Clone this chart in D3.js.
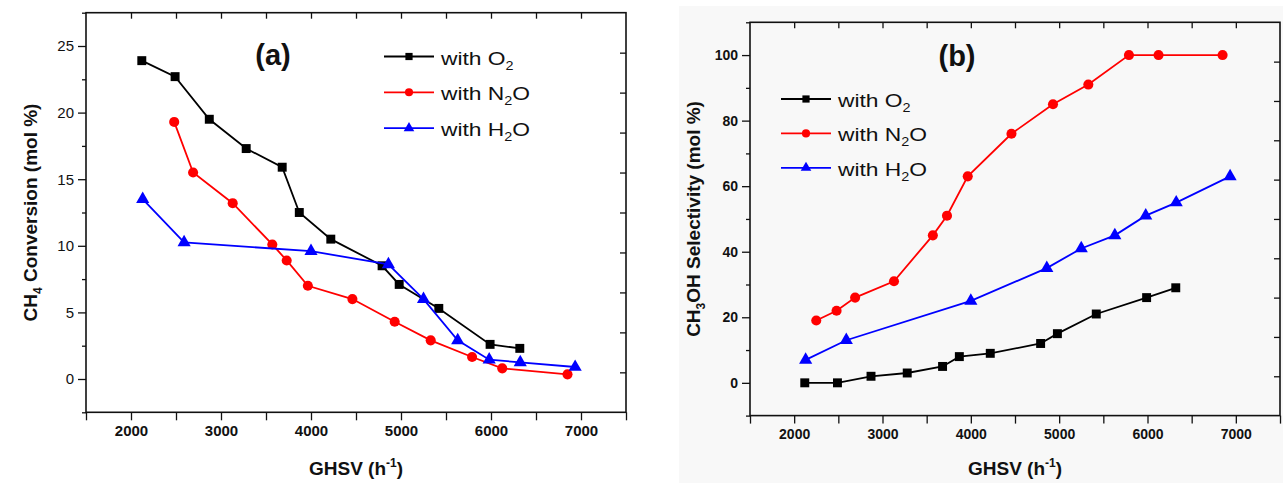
<!DOCTYPE html>
<html lang="en">
<head>
<meta charset="utf-8">
<title>GHSV</title>
<script src="https://cdn.jsdelivr.net/npm/d3@7"></script>
<style>
  body { margin: 0; background: #ffffff; }
  svg text { font-family: "Liberation Sans", Arial, sans-serif; fill: #111; }
</style>
</head>
<body>
<script>
// GHSV (h-1) of each run
var ghsvO2   = [2120, 2490, 2870, 3280, 3680, 3870, 4220, 4790, 4980, 5420, 5990, 6320];
var ghsvN2Oa = [2480, 2690, 3130, 3570, 3730, 3965, 4460, 4930, 5330, 5790, 6125, 6850];
var ghsvN2Ob = [2250, 2480, 2690, 3130, 3570, 3730, 3965, 4460, 4930, 5330, 5790, 6125, 6850];
var ghsvH2O  = [2130, 2590, 4000, 4860, 5250, 5630, 5980, 6325, 6935];

// (a) CH4 conversion, mol %
var convO2  = [23.9, 22.7, 19.5, 17.3, 15.9, 12.5, 10.5, 8.5, 7.1, 5.3, 2.6, 2.3];
var convN2O = [19.3, 15.5, 13.2, 10.1, 8.9, 7.0, 6.0, 4.3, 2.9, 1.65, 0.8, 0.35];
var convH2O = [13.5, 10.25, 9.6, 8.6, 6.0, 2.9, 1.45, 1.25, 0.9];

// (b) CH3OH selectivity, mol %
var selO2  = [0, 0, 2, 3, 5, 8, 9, 12, 15, 21, 26, 29];
var selN2O = [19, 22, 26, 31, 45, 51, 63, 76, 85, 91, 100, 100, 100];
var selH2O = [7, 13, 25, 35, 41, 45, 51, 55, 63];

// ticks
var xTicks      = [2000, 3000, 4000, 5000, 6000, 7000];
var convTicks   = [0, 5, 10, 15, 20, 25];
var selTicks    = [0, 20, 40, 60, 80, 100];
var convRightTk = [0.5, 3.5, 6.5, 9.5, 12.5, 15.5, 18.5, 21.5, 24.5];
var selRightTk  = [2, 14, 26, 38, 50, 62, 74, 86, 98];

var w = 1283, h = 483;

var svg = d3.select("body").append("svg")
  .attr("width", w)
  .attr("height", h);

svg.append("rect").attr("x", 679).attr("y", 6).attr("width", w - 679).attr("height", h - 6)
  .attr("fill", "#f8f8f8");

function drawPanel(p) {
  var x = d3.scaleLinear().domain([1500, 7500]).range([p.left, p.right]);
  var y = d3.scaleLinear().domain(p.yDomain).range([p.bottom, p.top]);
  var g = svg.append("g");

  // bottom axis
  var xAll = d3.range(1500, 7501, 500);
  var bx = g.append("g")
    .attr("transform", "translate(0," + p.bottom + ")")
    .call(d3.axisBottom(x).tickValues(xAll).tickSize(8).tickPadding(5)
      .tickFormat(function(d) { return xTicks.indexOf(d) >= 0 ? d : ""; }));
  bx.selectAll("text").style("font-size", p.xFont + "px").style("font-weight", "bold");

  // top axis, ticks inward
  g.append("g")
    .attr("transform", "translate(0," + p.top + ")")
    .call(d3.axisTop(x).tickValues(d3.range(2000, 7001, 500)).tickSize(-6).tickFormat(""));

  // left axis: majors with labels, minors shorter
  var ly = g.append("g")
    .attr("transform", "translate(" + p.left + ",0)")
    .call(d3.axisLeft(y).tickValues(p.yTicks).tickSize(8).tickPadding(4));
  ly.selectAll("text").style("font-size", p.yFont + "px").style("font-weight", p.yWeight);
  g.append("g")
    .attr("transform", "translate(" + p.left + ",0)")
    .call(d3.axisLeft(y).tickValues(p.yMinor).tickSize(4).tickFormat(""));

  // right axis, ticks inward
  g.append("g")
    .attr("transform", "translate(" + p.right + ",0)")
    .call(d3.axisRight(y).tickValues(p.rightTicks).tickSize(-6).tickFormat(""));

  g.selectAll(".domain").remove();
  g.selectAll(".tick line").attr("stroke", "#111").attr("stroke-width", 1.3);

  // frame
  g.append("rect")
    .attr("x", p.left).attr("y", p.top)
    .attr("width", p.right - p.left).attr("height", p.bottom - p.top)
    .attr("fill", "none").attr("stroke", "#111").attr("stroke-width", 1.6);

  // series
  p.series.forEach(function(s) {
    var pts = s.x.map(function(v, i) { return [x(v), y(s.y[i])]; });
    g.append("path")
      .attr("d", d3.line()(pts))
      .attr("fill", "none").attr("stroke", s.color).attr("stroke-width", 1.8);
    g.selectAll(null).data(pts).enter().append("path")
      .attr("transform", function(d) { return "translate(" + d[0] + "," + d[1] + ")"; })
      .attr("d", d3.symbol().type(s.symbol).size(s.size))
      .attr("fill", s.color);
  });

  // panel label
  g.append("text")
    .attr("x", p.labelX).attr("y", p.labelY)
    .attr("text-anchor", "middle")
    .style("font-size", "29px").style("font-weight", "bold")
    .text(p.label);

  // legend
  p.series.forEach(function(s, i) {
    var ry = p.legY + i * p.legStep;
    g.append("line")
      .attr("x1", p.legX).attr("x2", p.legX + 50)
      .attr("y1", ry).attr("y2", ry)
      .attr("stroke", s.color).attr("stroke-width", 1.8);
    g.append("path")
      .attr("transform", "translate(" + (p.legX + 25) + "," + ry + ")")
      .attr("d", d3.symbol().type(s.symbol).size(s.size * 0.65))
      .attr("fill", s.color);
    var t = g.append("text")
      .attr("transform", "translate(" + (p.legX + 57) + "," + (ry + 8) + ") scale(1.2,1)")
      .style("font-size", "19px");
    t.append("tspan").text("with " + s.name[0]);
    t.append("tspan").attr("dy", 5).style("font-size", "12px").text(s.name[1]);
    if (s.name[2]) t.append("tspan").attr("dy", -5).text(s.name[2]);
  });

  // axis titles
  var xt = g.append("text")
    .attr("x", (p.left + p.right) / 2).attr("y", 475)
    .attr("text-anchor", "middle")
    .style("font-size", "19px").style("font-weight", "bold");
  xt.append("tspan").text("GHSV (h");
  xt.append("tspan").attr("dy", -8).style("font-size", "12px").text("-1");
  xt.append("tspan").attr("dy", 8).text(")");

  var yt = g.append("text")
    .attr("transform", "translate(" + p.yTitleX + "," + ((p.top + p.bottom) / 2) + ") rotate(-90)")
    .attr("text-anchor", "middle")
    .style("font-size", "19px").style("font-weight", "bold");
  yt.append("tspan").text(p.yTitle[0]);
  yt.append("tspan").attr("dy", 5).style("font-size", "12px").text(p.yTitle[1]);
  yt.append("tspan").attr("dy", -5).text(p.yTitle[2]);
}

var sq = d3.symbolSquare, ci = d3.symbolCircle, tr = d3.symbolTriangle;

drawPanel({
  left: 86, right: 626, top: 12.7, bottom: 412.3,
  yDomain: [-2.5, 27.5], yTicks: convTicks, yMinor: [-2.5, 2.5, 7.5, 12.5, 17.5, 22.5, 27.5],
  rightTicks: convRightTk, xFont: 15, yFont: 15, yWeight: "normal",
  label: "(a)", labelX: 273, labelY: 65,
  legX: 384, legY: 56.5, legStep: 35.8,
  yTitleX: 37, yTitle: ["CH", "4", " Conversion (mol %)"],
  series: [
    { x: ghsvO2,   y: convO2,  color: "#000000", symbol: sq, size: 80, name: ["O", "2"] },
    { x: ghsvN2Oa, y: convN2O, color: "#ff0000", symbol: ci, size: 80, name: ["N", "2", "O"] },
    { x: ghsvH2O,  y: convH2O, color: "#0000ff", symbol: tr, size: 75, name: ["H", "2", "O"] }
  ]
});

drawPanel({
  left: 750, right: 1280, top: 22.3, bottom: 415.6,
  yDomain: [-10, 110], yTicks: selTicks, yMinor: [-10, 10, 30, 50, 70, 90, 110],
  rightTicks: selRightTk, xFont: 14, yFont: 14, yWeight: "bold",
  label: "(b)", labelX: 957, labelY: 66,
  legX: 781, legY: 99, legStep: 34.4,
  yTitleX: 700, yTitle: ["CH", "3", "OH Selectivity (mol %)"],
  series: [
    { x: ghsvO2,   y: selO2,  color: "#000000", symbol: sq, size: 80, name: ["O", "2"] },
    { x: ghsvN2Ob, y: selN2O, color: "#ff0000", symbol: ci, size: 80, name: ["N", "2", "O"] },
    { x: ghsvH2O,  y: selH2O, color: "#0000ff", symbol: tr, size: 75, name: ["H", "2", "O"] }
  ]
});
</script>
</body>
</html>
